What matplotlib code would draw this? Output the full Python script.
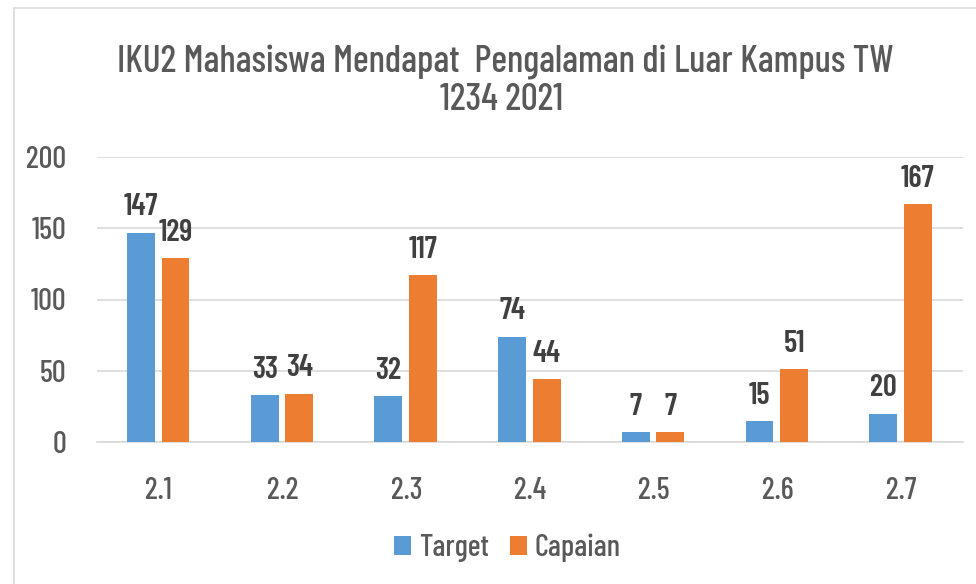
import matplotlib
matplotlib.use('Agg')
import matplotlib.pyplot as plt
from matplotlib.patches import Rectangle
import numpy as np

# chart data
categories = ['2.1', '2.2', '2.3', '2.4', '2.5', '2.6', '2.7']
target = [147, 33, 32, 74, 7, 15, 20]
capaian = [129, 34, 117, 44, 7, 51, 167]
yticks = [0, 50, 100, 150, 200]

plt.rcParams['font.family'] = ['Barlow Condensed', 'DejaVu Sans']
plt.rcParams['font.weight'] = 500

fig = plt.figure(figsize=(9.76, 5.84), dpi=100)
fig.patch.set_facecolor('white')

# light border of the chart area
fig.patches.append(Rectangle((14/976, -0.05), 1.1, 1 - 8/584 + 0.05, transform=fig.transFigure,
                             fill=False, edgecolor='#D9D9D9', linewidth=1.2))

ax = fig.add_axes([97/976, 1 - 442/584, (963 - 97)/976, (442 - 157)/584])

x = np.arange(len(categories))
w = 0.225
b1 = ax.bar(x - 0.145, target, w, color='#5B9BD5', label='Target', zorder=3)
b2 = ax.bar(x + 0.135, capaian, w, color='#ED7D31', label='Capaian', zorder=3)

for bars in (b1, b2):
    for rect in bars:
        h = rect.get_height()
        ax.annotate(f'{h:g}', (rect.get_x() + rect.get_width()/2, h),
                    xytext=(0, 8), textcoords='offset points', ha='center', va='bottom',
                    fontsize=22, color='#404040', fontweight=600)

ax.set_xlim(-0.5, len(categories) - 0.5)
ax.set_ylim(0, 200)
ax.set_yticks(yticks)
ax.set_xticks(x)
ax.set_xticklabels(categories)
ax.tick_params(axis='y', length=0, pad=22, labelsize=22, labelcolor='#595959')
ax.tick_params(axis='x', length=0, pad=25, labelsize=22, labelcolor='#595959')
ax.grid(axis='y', color='#D9D9D9', linewidth=1.2, zorder=0)
for s in ['top', 'right', 'left']:
    ax.spines[s].set_visible(False)
ax.spines['bottom'].set_color('#D9D9D9')
ax.spines['bottom'].set_linewidth(1.2)

fig.text(0.518, 1 - 62/584, 'IKU2 Mahasiswa Mendapat  Pengalaman di Luar Kampus TW',
         ha='center', va='center', fontsize=27, color='#595959')
fig.text(0.514, 1 - 100/584, '1234 2021', ha='center', va='center', fontsize=27, color='#595959')

fig.legend(handles=[b1, b2], loc='center', bbox_to_anchor=(0.52, 1 - 548/584), ncol=2,
           frameon=False, fontsize=22, handlelength=0.55, handleheight=0.6,
           handletextpad=0.25, columnspacing=0.7, labelcolor='#595959')

fig.savefig('out.png', dpi=100)
